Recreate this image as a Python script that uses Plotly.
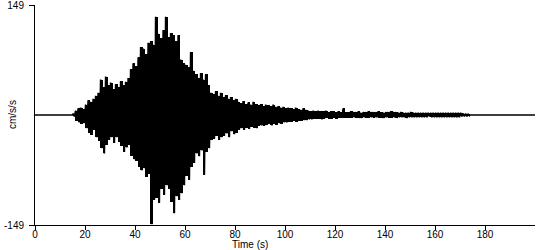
import plotly.graph_objects as go

# Seismogram envelope: per-second peak values (cm/s/s)
bin_start_s = list(range(15, 174))  # 15 .. 173 s
upper_peak = [
    2, 6, 9, 10, 8, 14, 20, 18, 22, 26,
    30, 48, 38, 52, 40, 44, 35, 42, 38, 46,
    40, 45, 50, 62, 70, 66, 78, 92, 90, 82,
    98, 100, 95, 133, 110, 104, 115, 133, 105, 111,
    108, 100, 108, 75, 70, 68, 65, 85, 60, 55,
    50, 57, 48, 55, 40, 30, 28, 32, 26, 30,
    24, 27, 22, 24, 20, 22, 18, 16, 19, 15,
    17, 14, 18, 15, 13, 15, 12, 14, 13, 12,
    14, 11, 12, 10, 11, 9, 10, 9, 8, 10,
    8, 7, 9, 7, 6, 5, 6, 5, 6, 5,
    5, 6, 4, 5, 5, 4, 5, 4, 9, 4,
    4, 5, 4, 4, 5, 3, 4, 4, 5, 4,
    4, 4, 5, 4, 3, 4, 4, 5, 4, 4,
    3, 4, 3, 3, 3, 4, 3, 3, 3, 3,
    3, 3, 3, 3, 3, 3, 3, 3, 3, 3,
    3, 3, 3, 3, 3, 3, 2, 2, 1,
]
lower_peak = [
    -2, -8, -10, -12, -11, -18, -24, -27, -20, -30,
    -35, -45, -52, -40, -34, -30, -38, -30, -36, -42,
    -50, -44, -40, -55, -60, -62, -70, -75, -72, -84,
    -80, -148, -115, -112, -119, -100, -108, -95, -100, -118,
    -133, -110, -115, -106, -95, -82, -88, -70, -65, -52,
    -56, -48, -81, -50, -45, -34, -32, -28, -34, -30,
    -28, -25, -30, -22, -26, -24, -20, -18, -20, -17,
    -19, -16, -17, -18, -15, -14, -15, -13, -12, -14,
    -12, -13, -11, -12, -10, -10, -9, -9, -8, -9,
    -8, -8, -7, -7, -6, -6, -5, -5, -5, -6,
    -5, -4, -5, -5, -4, -5, -4, -4, -4, -4,
    -4, -4, -3, -4, -4, -4, -3, -4, -4, -3,
    -4, -3, -4, -4, -4, -3, -4, -4, -3, -4,
    -3, -3, -3, -4, -3, -3, -3, -3, -3, -3,
    -3, -3, -2, -3, -3, -3, -3, -3, -3, -3,
    -3, -3, -3, -3, -3, -2, -2, -2, -1,
]
record_start_s = 0
record_end_s = 200
y_limit = 149
x_ticks = [0, 20, 40, 60, 80, 100, 120, 140, 160, 180]

# Solid body of the record: one bar per second from its lowest to highest peak
bar_x = [t + 0.5 for t in bin_start_s]
bar_h = [u - l for u, l in zip(upper_peak, lower_peak)]

# Trace line: quiet start, alternating peaks within each second, quiet end
xs = [record_start_s, bin_start_s[0]]
ys = [0, 0]
for t, up, lo in zip(bin_start_s, upper_peak, lower_peak):
    xs += [t + 0.25, t + 0.75]
    ys += [up, lo]
xs += [bin_start_s[-1] + 1, record_end_s]
ys += [0, 0]

fig = go.Figure()
fig.add_trace(go.Bar(x=bar_x, y=bar_h, base=lower_peak, width=1,
                     marker=dict(color="black", line=dict(width=0)),
                     hoverinfo="skip"))
fig.add_trace(go.Scatter(x=xs, y=ys, mode="lines",
                         line=dict(color="black", width=1.6),
                         hoverinfo="skip"))

font = dict(family="Liberation Sans, Arial, sans-serif", size=10, color="black")

fig.update_layout(
    width=550, height=250,
    margin=dict(l=35, r=15, t=5, b=25),
    paper_bgcolor="white", plot_bgcolor="white",
    showlegend=False, font=font, bargap=0,
    xaxis=dict(range=[record_start_s, record_end_s], tickvals=x_ticks,
               showline=True, linecolor="black", linewidth=1,
               ticks="outside", ticklen=4, tickcolor="black",
               ticklabelstandoff=-4, ticklabeloverflow="allow",
               automargin=False,
               showgrid=False, zeroline=False, tickfont=font),
    yaxis=dict(range=[-y_limit, y_limit], tickvals=[-y_limit, y_limit],
               ticktext=[str(-y_limit), str(y_limit)],
               showline=True, linecolor="black", linewidth=1,
               ticks="outside", ticklen=5, tickcolor="black",
               ticklabelstandoff=3, ticklabeloverflow="allow",
               automargin=False,
               showgrid=False, zeroline=False, tickfont=font),
    annotations=[
        dict(text="Time (s)", xref="paper", yref="paper", x=0.43, y=0,
             xanchor="center", yanchor="middle", yshift=-19, showarrow=False,
             font=font),
        dict(text="cm/s/s", xref="paper", yref="paper", x=0, y=0.5,
             xanchor="center", yanchor="middle", xshift=-23, textangle=-90,
             showarrow=False, font=font),
    ],
)

fig.write_html("out.html")
